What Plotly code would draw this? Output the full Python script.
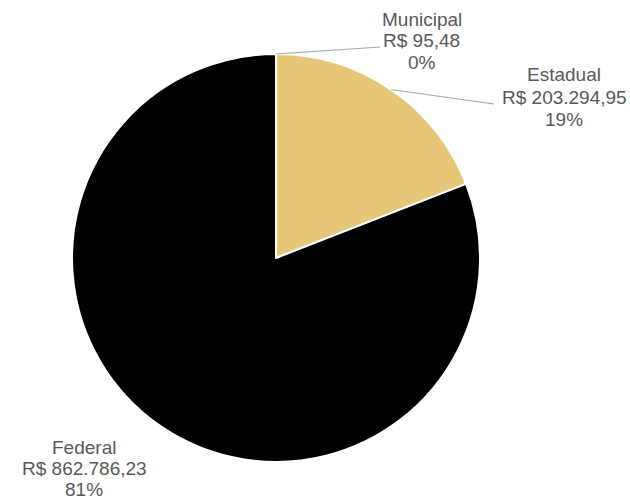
import math
import plotly.graph_objects as go

categories = ["Municipal", "Estadual", "Federal"]
values = [95.48, 203294.95, 862786.23]
colors = ["#E6C677", "#E6C677", "#000000"]

W, H = 630, 501
CX, CY, R = 276, 258, 204

def brl(v):
    s = f"{v:,.2f}"
    return "R$ " + s.replace(",", "X").replace(".", ",").replace("X", ".")

total = sum(values)
pcts = [v / total for v in values]

fig = go.Figure(go.Pie(
    labels=categories, values=values, sort=False, direction="clockwise",
    rotation=0, textinfo="none", hoverinfo="label+value+percent",
    marker=dict(colors=colors, line=dict(color="#FFFFFF", width=2)),
    domain=dict(x=[(CX - R) / W, (CX + R) / W], y=[1 - (CY + R) / H, 1 - (CY - R) / H]),
    showlegend=False,
))

# label centers (pixels, middle line), line spacing and leader line end points
label_pos = {"Municipal": (422, 41), "Estadual": (564, 97), "Federal": (84, 468)}
line_h = {"Municipal": 22, "Estadual": 22, "Federal": 21}
line_end = {"Municipal": (380, 47), "Estadual": (494, 104), "Federal": None}

def px(x, y):
    return x / W, 1 - y / H

cum = 0
annotations, shapes = [], []
for cat, v, p in zip(categories, values, pcts):
    mid = (cum + p / 2) * 2 * math.pi
    cum += p
    tx, ty = CX + R * math.sin(mid), CY - R * math.cos(mid)
    lx, ly = label_pos[cat]
    lines = [cat, brl(v), f"{round(p * 100)}%"]
    for i, t in enumerate(lines):
        ax, ay = px(lx, ly + (i - 1) * line_h[cat])
        annotations.append(dict(
            x=ax, y=ay, xref="paper", yref="paper", showarrow=False, text=t,
            font=dict(family="Liberation Sans, Arial", size=19, color="#595959"),
            align="center", xanchor="center", yanchor="middle",
        ))
    if line_end[cat]:
        ex, ey = line_end[cat]
        x0, y0 = px(tx, ty)
        x1, y1 = px(ex, ey)
        shapes.append(dict(type="line", xref="paper", yref="paper",
                           x0=x0, y0=y0, x1=x1, y1=y1,
                           line=dict(color="#A6A6A6", width=1)))

fig.update_layout(
    width=W, height=H, margin=dict(l=0, r=0, t=0, b=0),
    paper_bgcolor="#FFFFFF", plot_bgcolor="#FFFFFF",
    annotations=annotations, shapes=shapes,
)

fig.write_html("out.html", config={"displayModeBar": False},
               post_script="document.body.style.margin='0';")
